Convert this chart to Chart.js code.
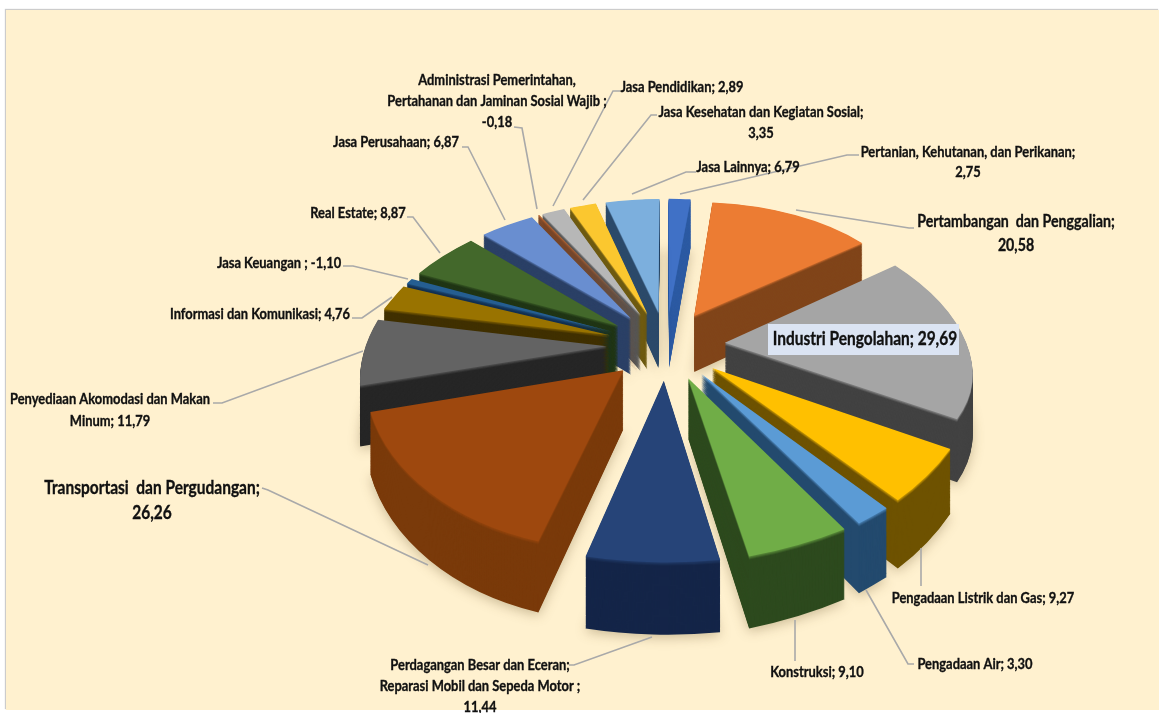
<!DOCTYPE html>
<html>
<head>
<meta charset="utf-8">
<title>PDRB per sektor</title>
<script src="https://cdn.jsdelivr.net/npm/chart.js@4"></script>
<style>
  html, body { margin: 0; padding: 0; background: #fff; overflow: hidden; }
  #panel { position: absolute; left: 6px; top: 10px; right: 0; bottom: 3px; background: #fff1cf; box-shadow: -1px -1px 1px #ccc; }
  #chart { position: absolute; left: 0; top: 0; }
</style>
</head>
<body>
<div id="panel"></div>
<canvas id="chart" width="1159" height="713"></canvas>
<script>
// data
const categories = [
  'Pertanian, Kehutanan, dan Perikanan', 'Pertambangan  dan Penggalian', 'Industri Pengolahan',
  'Pengadaan Listrik dan Gas', 'Pengadaan Air', 'Konstruksi',
  'Perdagangan Besar dan Eceran; Reparasi Mobil dan Sepeda Motor', 'Transportasi  dan Pergudangan',
  'Penyediaan Akomodasi dan Makan Minum', 'Informasi dan Komunikasi', 'Jasa Keuangan', 'Real Estate',
  'Jasa Perusahaan', 'Administrasi Pemerintahan, Pertahanan dan Jaminan Sosial Wajib',
  'Jasa Pendidikan', 'Jasa Kesehatan dan Kegiatan Sosial', 'Jasa Lainnya'
];
const values = [2.75, 20.58, 29.69, 9.27, 3.30, 9.10, 11.44, 26.26, 11.79, 4.76, -1.10, 8.87, 6.87, -0.18, 2.89, 3.35, 6.79];
const labelLines = [
  ['Pertanian, Kehutanan, dan Perikanan;', '2,75'],
  ['Pertambangan  dan Penggalian;', '20,58'],
  ['Industri Pengolahan; 29,69'],
  ['Pengadaan Listrik dan Gas; 9,27'],
  ['Pengadaan Air; 3,30'],
  ['Konstruksi; 9,10'],
  ['Perdagangan Besar dan Eceran;', 'Reparasi Mobil dan Sepeda Motor ;', '11,44'],
  ['Transportasi  dan Pergudangan;', '26,26'],
  ['Penyediaan Akomodasi dan Makan', 'Minum; 11,79'],
  ['Informasi dan Komunikasi; 4,76'],
  ['Jasa Keuangan ; -1,10'],
  ['Real Estate; 8,87'],
  ['Jasa Perusahaan; 6,87'],
  ['Administrasi Pemerintahan,', 'Pertahanan dan Jaminan Sosial Wajib ;', '-0,18'],
  ['Jasa Pendidikan; 2,89'],
  ['Jasa Kesehatan dan Kegiatan Sosial;', '3,35'],
  ['Jasa Lainnya; 6,79']
];

// warna
const topColors = ['#4071c6', '#ec7c33', '#a5a5a5', '#ffc000', '#5b9bd5', '#70ad47', '#264478', '#9e480e', '#636363',
  '#997300', '#255e91', '#43682b', '#698ed0', '#b5622f', '#b7b7b7', '#fbc72f', '#7cafdd'];
const sideColors = ['#2d5ba3', '#80451a', '#424242', '#6e5200', '#234a6e', '#2d4a1e', '#142548', '#7a3a0a', '#262626',
  '#403000', '#123052', '#203515', '#2b4066', '#7a4526', '#565656', '#6e5a10', '#2c4a6a'];

// posisi label: pusat x, y baris pertama, jarak baris, ukuran font
const labelPos = [
  [968, 152, 20, 15], [1016, 222, 24, 16.5], [865, 339, 0, 18], [983, 598, 0, 15], [975, 664, 0, 15], [817, 672, 0, 15],
  [480, 665, 21, 15], [152, 488, 25, 18], [110, 399, 22, 15], [260, 314, 0, 15], [279, 263, 0, 15], [358, 213, 0, 15],
  [396, 142, 0, 15], [497, 80, 21, 15], [682, 87, 0, 15], [761, 112, 21, 15], [748, 167, 0, 15]
];
const leaders = [
  [[680, 194], [847, 155], [859, 155]], [[796, 210], [909, 228], [914, 228]], null,
  [[921, 548], [921, 586]], [[866, 590], [908, 664], [914, 664]], [[795, 620], [795, 661]],
  [[652, 637], [574, 665], [569, 665]], [[428, 565], [268, 490], [262, 488]], [[363, 351], [222, 403], [213, 403]],
  [[392, 297], [362, 318], [352, 318]], [[408, 279], [353, 266], [343, 266]], [[440, 253], [413, 217], [407, 217]],
  [[505, 220], [468, 147], [462, 147]], [[537, 209], [522, 128], [514, 127]], [[553, 206], [613, 91], [620, 91]],
  [[583, 200], [651, 115], [657, 115]], [[632, 194], [686, 172], [696, 172]]
];

// proyeksi perspektif bidang pie
const view = { cx: 666, cy: 345, rx: 242, ry: 141, persp: 0.16, depth: 58 };

function project(u, v, t) {
  const s = 1 / (1 - view.persp * v);
  return [view.cx + view.rx * u * s, view.cy + (view.ry * v + view.depth * t) * s];
}

function affineFor(arc, offset, t) {
  const off = offset / 4;
  const mid = (arc.startAngle + arc.endAngle) / 2;
  const circ = arc.endAngle - arc.startAngle;
  const e = off / arc.outerRadius;
  // ArcElement menggambar irisan sempit lebih panjang dan lebih ramping kalau ada offset
  const radiusOff = off * (1 - Math.sin(Math.min(Math.PI, circ)));
  const drawn = arc.outerRadius + radiusOff;
  const beta = Math.max(0.001, circ * drawn - radiusOff / Math.PI) / drawn;
  const ox = Math.cos(mid), oy = Math.sin(mid);
  const dirs = [[0, 0], [Math.cos(arc.startAngle), Math.sin(arc.startAngle)], [Math.cos(arc.endAngle), Math.sin(arc.endAngle)]];
  const src = [[0, 0], [Math.cos(mid - beta / 2), Math.sin(mid - beta / 2)], [Math.cos(mid + beta / 2), Math.sin(mid + beta / 2)]];
  const D = dirs.map(p => project(ox * e + p[0], oy * e + p[1], t));
  const S = src.map(p => [arc.x + ox * off + p[0] * drawn, arc.y + oy * off + p[1] * drawn]);
  const a1 = S[1][0] - S[0][0], b1 = S[1][1] - S[0][1];
  const a2 = S[2][0] - S[0][0], b2 = S[2][1] - S[0][1];
  const det = a1 * b2 - a2 * b1;
  const dx1 = D[1][0] - D[0][0], dy1 = D[1][1] - D[0][1];
  const dx2 = D[2][0] - D[0][0], dy2 = D[2][1] - D[0][1];
  const a = (dx1 * b2 - dx2 * b1) / det, c = (dx2 * a1 - dx1 * a2) / det;
  const b = (dy1 * b2 - dy2 * b1) / det, d = (dy2 * a1 - dy1 * a2) / det;
  return [a, b, c, d, D[0][0] - a * S[0][0] - c * S[0][1], D[0][1] - b * S[0][0] - d * S[0][1]];
}

function mix(c1, c2, k) {
  const p = c => [1, 3, 5].map(i => parseInt(c.substr(i, 2), 16));
  const A = p(c1), B = p(c2);
  return 'rgb(' + A.map((v, i) => Math.round(v + (B[i] - v) * k)).join(',') + ')';
}

const pie3d = {
  id: 'pie3d',
  beforeDatasetsDraw(chart) {
    const ctx = chart.ctx;
    const arcs = chart.getDatasetMeta(0).data.map((arc, i) => ({ arc, i }));
    // yang di belakang digambar dulu
    arcs.sort((A, B) => Math.sin((A.arc.startAngle + A.arc.endAngle) / 2) - Math.sin((B.arc.startAngle + B.arc.endAngle) / 2));
    arcs.forEach(({ arc, i }) => {
      const base = arc.options;
      const layers = 70;
      for (let l = layers; l >= 0; l--) {
        const t = l / layers;
        const color = l === 0 ? topColors[i] : (l <= 3 ? mix(topColors[i], sideColors[i], 0.25 + l * 0.2) : sideColors[i]);
        arc.options = Object.assign({}, base, { backgroundColor: color });
        ctx.save();
        ctx.setTransform(...affineFor(arc, base.offset, t));
        if (l === layers) {
          ctx.shadowColor = 'rgba(110,90,50,0.35)';
          ctx.shadowBlur = 12;
          ctx.shadowOffsetY = 3;
        }
        arc.draw(ctx);
        ctx.restore();
      }
      arc.options = base;
    });
    return false;
  },
  afterDraw(chart) {
    const ctx = chart.ctx;
    ctx.save();
    ctx.setTransform(1, 0, 0, 1, 0, 0);
    ctx.strokeStyle = '#a9a9a9';
    ctx.lineWidth = 1.6;
    leaders.forEach(pts => {
      if (!pts) return;
      ctx.beginPath();
      pts.forEach((p, k) => k ? ctx.lineTo(p[0], p[1]) : ctx.moveTo(p[0], p[1]));
      ctx.stroke();
    });
    // kotak label Industri
    ctx.fillStyle = '#dbe4f3';
    ctx.fillRect(768, 324, 191, 31);
    ctx.fillStyle = '#111';
    ctx.strokeStyle = '#111';
    ctx.lineWidth = 0.35;
    ctx.textAlign = 'center';
    ctx.textBaseline = 'middle';
    labelLines.forEach((lines, i) => {
      const [x, y, gap, size] = labelPos[i];
      ctx.font = 'bold ' + size + 'px Lato';
      lines.forEach((line, k) => {
        ctx.save();
        ctx.translate(x, y + k * gap);
        ctx.scale(0.86, 1);
        ctx.fillText(line, 0, 0);
        ctx.strokeText(line, 0, 0);
        ctx.restore();
      });
    });
    ctx.restore();
  }
};

new Chart(document.getElementById('chart'), {
  type: 'pie',
  data: {
    labels: categories,
    datasets: [{
      data: values.map(v => Math.abs(v)),
      backgroundColor: topColors,
      borderWidth: 0,
      offset: 234
    }]
  },
  options: {
    responsive: false,
    animation: false,
    rotation: 0,
    layout: { padding: 0 },
    plugins: { legend: { display: false }, tooltip: { enabled: false } }
  },
  plugins: [pie3d]
});
</script>
</body>
</html>
